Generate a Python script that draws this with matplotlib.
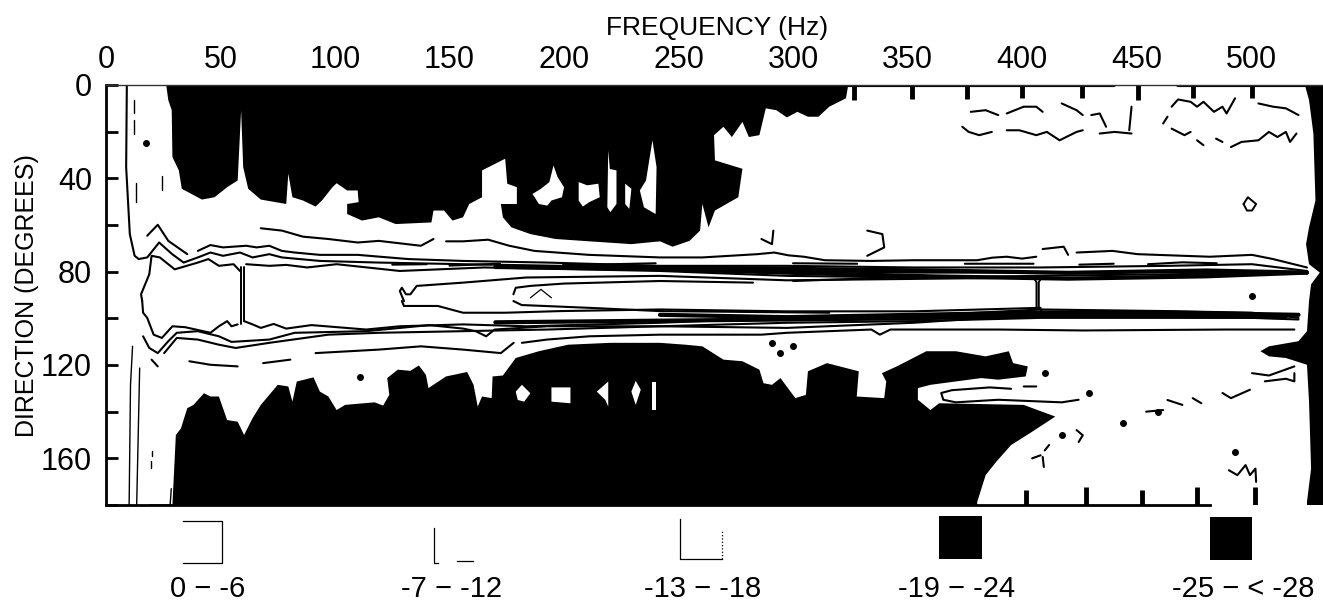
import numpy as np
import matplotlib
matplotlib.use("Agg")
import matplotlib.pyplot as plt
from matplotlib.patches import Rectangle

plt.rcParams['font.family'] = ['Liberation Sans', 'DejaVu Sans']

GAP = (np.nan, np.nan)

# every curve is (frequency Hz, direction degrees)
freq_ticks = [0, 50, 100, 150, 200, 250, 300, 350, 400, 450, 500]
dir_ticks = [0, 20, 40, 60, 80, 100, 120, 140, 160, 180]
dir_labels = ['0', '', '40', '', '80', '', '120', '', '160', '']
legend_labels = ['0 \u2212 -6', '-7 \u2212 -12', '-13 \u2212 -18', '-19 \u2212 -24', '-25 \u2212 < -28']

upper_black = [(26.3,0),(27.2,6.5),(28.7,10.8),(29,30.9),(31.8,36.6),(33.1,44.5),(41.9,49.1),(47.4,48.1),(52.9,43.8),
    (57.5,40.9),(59,10.8),(59.9,35.2),(62.1,44.5),(67.6,49.1),(78.7,51),(79.6,38),(81.4,48.1),(86,49.5),(91.5,52.1),
    (94.3,49.5),(98.9,43.8),(100.7,42.1),(105.3,45.2),(109.9,45.2),(110.3,50.2),(105.3,51),(105.3,55.3),(111.8,58.1),
    (119.1,56.7),(126.5,59.6),(142.1,58.9),(143,53.8),(147.6,53.8),(151.3,58.1),(155.9,56.7),(158.6,51),(164.2,48.1),
    (164.2,36.6),(174.3,31.6),(175.2,42.3),(179.4,43.8),(179.4,51),(172.4,51),(173.3,56.7),(177,61),(185.3,63.9),
    (196.3,66),(211,67),(229.4,68.2),(241.9,67),(247.4,69.3),(254.8,66.8),(259.4,62.4),(260.4,51),(263.1,61),(265.9,53.8),
    (276.1,48.1),(277.9,35.9),(265.9,32.3),(265.5,21.5),(269.6,17.9),(273.3,22.3),(277.9,15.8),(280.7,22.3),(285.3,21.5),
    (288.1,10),(292.7,10.8),(297.3,13.9),(301.9,11.5),(306.5,13.6),(311.1,13.6),(315.8,9.3),(323.1,5.7),(324.1,0)]

upper_holes = [
    [(186.2,46.7),(189.9,44.5),(193.6,41.6),(195.4,34.5),(197.2,39.5),(200,43.8),(199.1,48.1),(194.5,49.5),(192.7,51.7),(189,51),(187.2,48.1)],
    [(206.4,41.6),(210.1,43),(215,42.3),(215.6,48.1),(211,50.2),(208.2,52.1),(206.4,49.5)],
    [(219.3,28),(220,36),(222.9,36.6),(222.9,51),(220.2,54.5),(218.9,52.4)],
    [(226.7,42.3),(229.4,44.5),(228.5,53.1),(226.7,51)],
    [(233.1,45.2),(235.8,40.9),(238.6,23.7),(240.4,35.2),(240,55.3),(234.9,52.4)],
]

lower_black = [(29,180),(30.5,150),(32.7,147.2),(35.5,138.5),(38.2,137.1),(42.8,132.1),(45.6,133.5),(49.3,133.5),(52.9,143.6),
    (57.5,144.3),(60.3,150),(64,142.8),(67.6,137.1),(75,128.5),(79.6,129.2),(81.4,135.7),(83.3,127.1),(90.6,125.3),(93.4,131.4),
    (97.1,133.5),(100.7,139.3),(104.4,137.1),(117.3,136),(121,137.4),(123.7,132.8),(122.8,125.6),(127.4,122),(132.9,122.5),
    (136.6,120.2),(139.7,124.2),(140.8,129.9),(148.5,124.9),(157.7,123),(160.5,128.5),(162.3,137.8),(164.2,133.5),(168.4,134.2),
    (168.8,124.9),(173.3,124.5),(178.9,117),(189,114.1),(201.8,111.3),(220.2,110.5),(241.9,110.5),(253,111.3),(260.4,112),
    (269.6,117.7),(277.9,118.4),(285.3,122),(287.1,127.8),(290.8,128.5),(294.5,125.6),(301,134.2),(305.6,132.8),(306.5,122.7),
    (314.8,119.2),(328.7,122.7),(327.8,133.5),(339.8,134.2),(340.7,127.1),(338.8,123.5),(345.3,120.6),(358.2,114.1),(371.1,114.1),
    (384.1,116.3),(394.2,114.1),(396.1,119.2),(402.5,120.6),(401.6,124.9),(389.6,126.3),(382.2,125.6),(360,128.5),(354.5,129.9),
    (354.5,134.9),(360,139.3),(363.8,136.4),(400.7,137.1),(414.5,142.1),(404.4,148.6),(395.2,154.3),(388.7,161.5),(384.1,167.2),
    (380.4,178.7),(380.4,180)]

lower_holes = [
    [(178.9,131.4),(181.6,128.5),(185.3,132.1),(182.6,135.7),(179.8,135)],
    [(194.5,129.6),(202.8,129.6),(202.8,136.4),(194.5,135.7)],
    [(214.3,131.4),(219.3,127.1),(219.3,137.8),(218,134.9)],
    [(229.4,131.4),(231.3,126.8),(233.5,130.6),(231.3,137.1)],
    [(238.2,127.1),(240,127.1),(240,139.3),(238.2,139.3)],
]

right_black = [(531.4,0),(523.5,0),(525.3,6.5),(527.2,20.8),(528.1,49.5),(525.3,61),(524,68.2),(525.3,76.8),(530,80.4),(526.2,85.4),
    (525.3,92.6),(524.4,105.5),(520.7,109.8),(507.8,112),(504.1,114.1),(507.8,116.3),(515.2,117),(524.4,119.9),(525.3,135.7),
    (526.2,164.4),(524.4,178.7),(524.4,180),(531.4,180)]

line_a = [(67.6,61.4),(76.8,62.4),(86,65),(97.1,66),(109.9,67.5),(119.1,66.8),(137.5,68.9),(143,66),GAP,(148.5,67),(155.9,67),
    (166.9,66.3),(176.1,68.9),(187.1,71.1),(211,72.8),(241.9,73.9),(260.4,73.9),(284.4,72.5),(291.8,71.8),(298,73),(304.7,73.6),(313.9,75.1),
    (334.2,75.4),(352.7,75.1),(380.4,75.1),(387,74),(393.3,73.6),(400,74.4),(406.2,73.6),GAP,(409,70.3),(418.2,69.3),(420.1,72.8),GAP,(423.8,71.8),
    (439.5,71.1),(450.5,72.5),(481.9,73.6),(500.4,72.8),(509.6,74.6),(524.4,78.2)]
line_b = [(18,64.6),(22.6,59.9),(27.2,66.8),(35.5,72.5),GAP,(40.1,71.1),(45.6,68.6),(51.1,69.6),(61.2,68.9),(65.8,69.6),(71.3,68.9),
    (76.8,71.1),(82.4,71.8),(93.4,72.8),(109.9,72.8),(132,74.6),(155.9,75.4),(192.6,76.1),(241.9,77.5),(297.3,77.5),(352.7,78.2),
    (408.1,78.2),(463.5,77.5),(500.4,76.8),(524.4,79.7)]
line_c = [(9.1,0),(8.8,35.2),(10.4,63.9),(12.5,73.2),(14.3,74.6),(18,73.9),(23.2,67.5),(28.9,72.5),(33.9,76.1),(40.1,73.9),(45.6,71.8),
    (51.1,73.2),(58.5,71.8),(64,73.9),(71.3,72.5),(76.8,73.9),(93.4,75.4),(119.1,76.1),(155.9,76.8),(241.9,78.2),(297.3,79.7),
    (352.7,80.4),(408.1,80.4),(463.5,80),(524.4,80.4)]
line_d = [(15.8,92.6),(15.3,89.7),(18.9,81.1),(19.9,73.2),(23.5,73.9),(30,79),(40.1,76.1),(44.7,74.6),(49.3,77.5),(55.7,76.8),(58.5,79.7),
    GAP,(61.2,76.8),(71.3,77.5),(78.7,77.1),(87.9,78.2),(100.7,76.8),(128.3,79.7),(165.1,78.2),(241.9,79.7),(297.3,81.8),(352.7,82.5),
    (408.1,81.8),(463.5,81.1),(524.4,80.4)]
band_upper = [(170,78),(242,78.9),(300,80.5),(360,82),(420,83),(480,82),(524.4,80.4)]
band_upper2 = [(200,77.3),(242,78.2),(300,78.8),(360,79.5),(420,80.5),(480,79.5),(524.4,80.4)]
band_frags = [(125,77),(140,76.8),GAP,(150,77.4),(172,76.6),GAP,(180,77.8),(205,78),GAP,(212,77),(240,76.4),GAP,(300,76.4),(328,76.6),
    GAP,(375,76.6),(405,76.6),GAP,(425,77),(440,76.6),GAP,(455,76.8),(470,76),(485,76.4)]
inner_a_top = [(130.1,92.6),(128.3,88.3),(129.2,86.9),(131,89.7),(132.9,89.7),(135.7,86.1),(155.9,84.7),(183.5,82.5),(241.9,81.8),
    (297.3,83.7),(334.2,83.3),(408.1,82.5)]
inner_a_bot = [(129.2,92.6),(130.1,94.7),(144.9,94.7),(155.9,97.6),(174.3,97.6),(198.2,96.9),(241.9,96.2),(297.3,97),(352.7,97),(408.1,95.5)]
inner_b_top = [(177.9,89.7),(178.9,86.9),(185.3,86.1),(200,85.1),(241.9,84),(282.5,84.7),GAP,(300,84),(343.5,82.5)]
inner_b_bot = [(177.9,92.6),(181.5,94.3),(211,95.5),(241.9,96.9),(315.8,97.6)]
inner_scrawl = [(185.3,91.2),(189.9,87.6),(194.5,91.2)]
line_l1 = [(15.8,92.6),(16.2,97.6),(18,99.8),(20.8,107),(24.4,108.4),(29,103.4),(34.6,103.8),(45.6,106.2),(49.3,103.4),(52.9,101.2),
    (54.8,103.4),(57.5,102.6),GAP,(60.3,101.2),(64,102.6),(67.6,104.1),(73.2,102.4),(78.7,104.4),(89.7,102.9),(113.6,104.8),(128.3,103.4),
    (155.9,102.6),(183.5,103.4),(241.9,101.9),(297.3,99.8),(352.7,99),(408.1,96.2),(463.5,96.9),(500.4,97.6),(520.7,99.8)]
line_l2 = [(16.2,107.7),(18.9,112.7),(22.6,114.9),(27.2,109.8),(30.9,106.2),(40.1,105.5),(49.3,107.7),(54.8,110.1),(71.3,109.1),(82.4,106.2),
    (113.6,105.5),(141.2,102.9),(155.9,104.4),(161.4,105.5),(166,107.7),(169.7,104.8),(192.6,103.4),(241.9,103.4),(297.3,101.9),(352.7,101.2),
    (408.1,99.8),(463.5,99.8),(500.4,99.8),(520.7,100.5)]
line_l3 = [(25.4,114.9),(30.9,108.4),(40.1,109.1),(49.3,111.3),(56.6,112.7),(71.3,110.5),(97.1,107),(119.1,106.2),(155.9,105.5),(192.6,104.8),
    (241.9,103.4),(297.3,104.1),(352.7,101.9),(408.1,98.3),(463.5,98.3),(518.9,99)]
line_l4 = [(19.9,117.7),(22.6,120.6),GAP,(36.4,118.4),(45.6,119.9),(57.5,120.6),GAP,(68.6,119.2),(80.5,117.7),GAP,(91.5,114.9),(119.1,113.4),
    (137.5,112),(155.9,113.4),(172.4,114.9),(178,110.5),GAP,(181.6,110.5),(192.6,109.1),(211,107.7),(241.9,107),(286.2,107),(297.3,106.2),
    (334.2,104.8),(337.9,107),(342.5,104.8),(389.6,104.8),(426.5,105.2),(489.3,104.8),(518.9,104.8)]
band_lower = [(241.9,98.5),(297.3,99.5),(352.7,98.5),(408.1,97.5),(463.5,97.5),(520.7,98.5)]
band_lower2 = [(170,101.7),(241.9,101),(297.3,100.5),(352.7,100),(408.1,98.8),(463.5,99),(515,99.5)]
spike_60 = [(58.8,78.2),(58.8,102.6),GAP,(60.2,78.2),(60.2,101.2)]
spike_410 = [(405,82.5),(406.3,84.5),(406.3,95.5),(405,96.5),GAP,(408.5,82.5),(407.3,84.5),(407.3,95.5),(408.5,96.5)]
left_lines = [(11.6,112),(10.7,128.5),(10.1,180),GAP,(14.7,121.3),(13.4,180),GAP,(19,180),(28,180),(28.5,173)]
left_dashes = [(12.1,6.5),(12.1,12),GAP,(12.1,15),(12.1,21),GAP,(12.9,42),(12.9,50),GAP,(24.4,39),(24.4,45),GAP,(19.9,157),(19.9,159),GAP,(19.5,161),(19.5,164)]
wedge_line = [(424.7,134.9),(417.3,136),(389.6,134.9),(371.1,136),(365.6,134.9),(364.7,132),(369.3,130.8),(385.9,129.6),(395.2,130.2),GAP,(400.7,129.2),(406.2,129.2)]
scrawl_low = [(373.9,17.9),(376.7,20.1),(381.3,21.5),(386.8,20.1),GAP,(393.3,19.4),(398.8,19.4),(406.2,21.5),(410.8,20.1),(416.4,23.7),(423.8,20.1),
    (426.5,19.4),GAP,(433.9,20.8),(440.4,20.1),(447.8,20.8),GAP,(465.3,18.7),(470.9,21.5),(473.6,20.1),GAP,(476.4,23.7),(479.2,25.8),GAP,(484.7,23),
    (487.5,24.4),GAP,(491.2,26.6),(495.8,24.4),(503.2,23.7),(507.8,20.1),(511.5,22.3),(515.2,20.1),(517,24.4),(519.8,20.8)]
scrawl_high = [(377.6,11.5),(384.1,10.8),(389.6,12.9),GAP,(393.3,12.2),(400.7,9.3),(406.2,9.3),(409,11.5),GAP,(417.3,7.9),(423.8,10.8),(426.5,12.9),
    GAP,(430.2,12.9),(433.9,12.2),(436.7,17.9),GAP,(446.8,19.4),(447.8,9.3),GAP,(461.6,16.5),(463.5,13.6),GAP,(465.3,9.3),(468.1,6.2),(473.6,7.2),
    (476.4,9.3),(479.2,7.2),(483.8,11.5),(487.5,9.3),(489.3,12.2),(493,5.7),GAP,(503.2,7.9),(509.6,9.3),(515.2,10),(520.7,12.9)]
ring = [(496.7,51),(498.6,48.1),(502.2,51),(500.4,53.8),(498.2,53.8),(496.7,51)]
bits = [(286.2,66),(290.8,68.2),(291.4,62.4),GAP,(332.4,62.4),(339,63.9),(339.8,69.6),(332.4,73.2),GAP,(500.4,123.5),(507.8,124.5),(518.9,120.6),
    GAP,(506,127),(515.2,125.9),(518.9,127),(518.9,123.5),GAP,(487.5,132),(491.2,134.2),(499.5,130.6),GAP,(463.5,135),(470,137.1),GAP,(474.5,134.2),
    (478.3,136.4),GAP,(454.2,140),(461.6,139.3),GAP,(411.8,154.3),(409.9,156.6),GAP,(423.8,147.9),(426.5,150.1),(424.7,153),GAP,(409,159.4),(409.5,163.7),
    GAP,(404.4,160),(408.1,158.7),GAP,(490.3,165.1),(494,167.2),(497.6,162.9),(499.5,167.2),(501.9,164.4),(502.2,170.1)]
dots = [(110.8,125),(409.9,123.5),(429.3,132),(444.1,145),(459.4,140),(493,157.2),(17.6,25),(290.8,110.5),(294.5,114.9),(300,112),(500.4,90.4),(417.3,150)]
top_spike_hz = [326.8, 351.8, 375.8, 399.8, 426.2, 450.5, 474.5, 500.4]
top_spike_deg = [6.5, 6.2, 6.2, 5.7, 5.7, 6.5, 5.7, 5.7]
top_trace = [(324,0),(440,0),GAP,(468,0),(523.5,0)]
bottom_spike_hz = [401.6, 428, 452.4, 476.4, 501.9]
bottom_spike_deg = [173.7, 172.3, 173.7, 172.3, 172.3]


def draw(curve, lw=1.2):
    pts = np.array(curve, dtype=float)
    ax.plot(pts[:, 0], pts[:, 1], color='black', lw=lw, solid_capstyle='round')


def fill(poly, color='black'):
    pts = np.array(poly, dtype=float)
    ax.fill(pts[:, 0], pts[:, 1], color=color, lw=0)


fig = plt.figure(figsize=(13.23, 6.07), dpi=100)
ax = fig.add_axes([106 / 1323, 1 - 505 / 607, 1217 / 1323, 420 / 607])
ax.set_xlim(0, 531.4)
ax.set_ylim(180, 0)

fill(upper_black)
fill(lower_black)
fill(right_black)
for hole in upper_holes + lower_holes:
    fill(hole, 'white')

for curve in [line_a, line_b, line_c, line_d, inner_a_top, inner_a_bot, inner_b_top, inner_b_bot,
              line_l1, line_l2, line_l3, line_l4, wedge_line, scrawl_low, scrawl_high, band_frags]:
    draw(curve, 1.5)
for curve in [band_upper, band_upper2, band_lower, band_lower2]:
    draw(curve, 3.0)
draw(inner_scrawl, 0.9)
draw(spike_60, 1.4)
draw(spike_410, 1.4)
draw(left_lines, 1.0)
draw(left_dashes, 1.0)
draw(ring, 1.4)
draw(bits, 1.5)
draw(top_trace, 3.0)

ax.vlines(top_spike_hz, 0, top_spike_deg, color='black', lw=3.5)
ax.vlines(bottom_spike_hz, 180, bottom_spike_deg, color='black', lw=3.5)
ax.plot(*zip(*dots), 'o', color='black', ms=4)

ax.spines['right'].set_visible(False)
ax.spines['top'].set_linewidth(1.0)
ax.spines['top'].set_color('#333333')
ax.spines['left'].set_linewidth(2.0)
ax.spines['bottom'].set_linewidth(2.0)
ax.spines['bottom'].set_bounds(0, 482)

ax.xaxis.tick_top()
ax.set_xticks(freq_ticks)
ax.set_xticklabels([str(v) for v in freq_ticks])
ax.set_yticks(dir_ticks)
ax.set_yticklabels(dir_labels)
ax.tick_params(axis='x', length=0, pad=7, labelsize=22)
ax.tick_params(axis='y', direction='in', length=8.5, width=2, pad=10, labelsize=22)

# overlay in picture pixels for titles and the key
key = fig.add_axes([0, 0, 1, 1])
key.set_xlim(0, 1323)
key.set_ylim(607, 0)
key.axis('off')
key.patch.set_alpha(0)

key.text(717, 28, 'FREQUENCY (Hz)', ha='center', va='center', fontsize=19)
key.text(27, 296, 'DIRECTION (DEGREES)', rotation=90, ha='center', va='center', fontsize=18)

key.plot([183, 222, 222, 183], [521, 521, 563, 563], color='black', lw=0.9)
key.plot([434, 434, 438], [528, 563, 563], color='black', lw=0.9)
key.plot([457, 473], [561, 561], color='black', lw=0.9)
key.plot([680, 680, 722], [519, 559, 559], color='black', lw=0.9)
key.plot([722, 722], [559, 530], color='black', lw=0.9, ls=':')
key.add_patch(Rectangle((939, 516), 43, 43, color='black', lw=0))
key.add_patch(Rectangle((1210, 517), 42, 43, color='black', lw=0))

for x, label in zip([208, 452, 703, 957, 1243], legend_labels):
    key.text(x, 589, label, ha='center', va='center', fontsize=21)

fig.savefig('out.png', dpi=100)
